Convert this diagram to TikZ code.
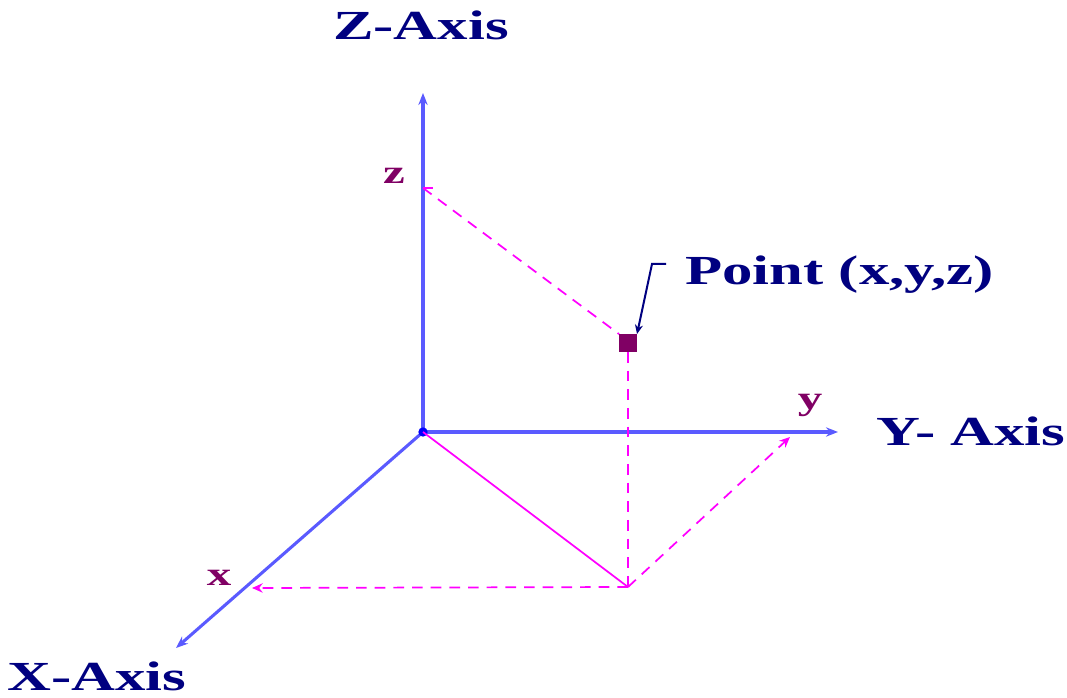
\documentclass[tikz,border=0pt]{standalone}
\usepackage{fontspec}
\setmainfont{Liberation Serif}
\usetikzlibrary{arrows.meta}
\definecolor{axisblue}{RGB}{90,90,255}
\definecolor{navy}{RGB}{0,0,128}
\definecolor{mag}{RGB}{255,0,255}
\definecolor{plum}{RGB}{128,0,100}
\newcommand\widetext[1]{\scalebox{1.47}[1]{#1}}
\begin{document}
\begin{tikzpicture}[x=0.75pt,y=-0.75pt,
  axis/.style={draw=axisblue,line width=2.3pt,-{Stealth[length=9pt,width=7pt]}},
  proj/.style={draw=mag,line width=1.3pt,dash pattern=on 8pt off 6pt},
  bigl/.style={text=navy,font=\bfseries\fontsize{31}{36}\selectfont,inner sep=0pt},
  smalll/.style={text=plum,font=\bfseries\fontsize{25}{28}\selectfont,inner sep=0pt}]
\useasboundingbox (0,0) rectangle (1067,698);
\coordinate (O) at (423,432);
\coordinate (Zend) at (423,93);
\coordinate (Yend) at (838,432);
\coordinate (Xend) at (176,648);
\coordinate (zm) at (423,188);
\coordinate (ym) at (790,437);
\coordinate (xm) at (252,588);
\coordinate (F) at (628,587);
\node[fill=plum,minimum size=13pt,inner sep=0pt] (P) at (628,343) {};
\draw[axis] (O) -- (Zend);
\draw[axis] (O) -- (Yend);
\draw[axis] (O) -- (Xend);
\fill[blue] (O) circle (3.5pt);
\draw[proj] (zm) -- (P.north west);
\draw[proj] (P.south) -- (F);
\draw[mag,line width=1.3pt] (O) -- (F);
\draw[proj,-{Stealth[length=8pt,width=7pt]}] (F) -- (ym);
\draw[proj,-{Stealth[length=8pt,width=7pt]}] (F) -- (xm);
\draw[mag,line width=2pt] (zm) -- ++(10,0);
\node[bigl] (zlab) at (421,25) {\widetext{Z-Axis}};
\node[bigl] (ylab) at (971,431) {\widetext{Y- Axis}};
\node[bigl] (xlab) at (97,676) {\widetext{X-Axis}};
\node[bigl,anchor=west] (plab) at (685,275) {\widetext{Point (x,y,z)}};
\node[smalll] (zs) at (394,176) {\widetext{z}};
\node[smalll] (ys) at (810,405) {\widetext{y}};
\node[smalll] (xs) at (219,578) {\widetext{x}};
\coordinate (c1) at (666,264);
\coordinate (c2) at (652,264);
\draw[navy,line width=1.5pt,-{Stealth[length=7pt,width=6pt]}] (c1) -- (c2) -- (P.north east -| 637,0);
\end{tikzpicture}
\end{document}
